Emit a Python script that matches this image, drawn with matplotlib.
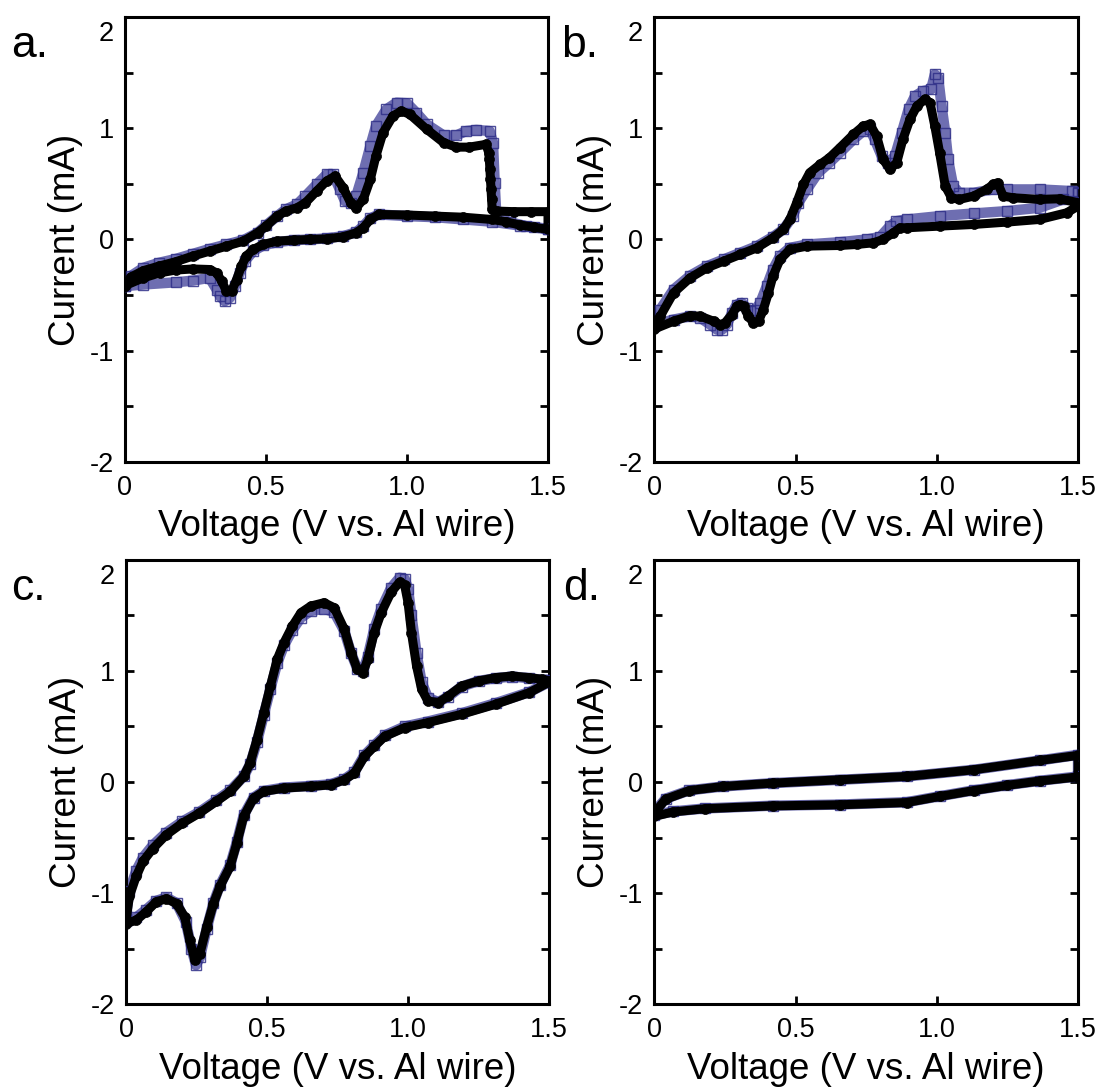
import matplotlib
matplotlib.use("Agg")
import matplotlib.pyplot as plt
from matplotlib.ticker import MultipleLocator, FixedLocator
import matplotlib.transforms as mtransforms

plt.rcParams['font.family'] = ['Liberation Sans', 'DejaVu Sans']

# ---------------- data (V vs. Al wire, current in mA) ----------------
# Panel a
a_black_v = [0, 0.02, 0.065, 0.12, 0.18, 0.24, 0.30, 0.36, 0.42, 0.47, 0.50, 0.54, 0.57, 0.61, 0.64,
             0.68, 0.715, 0.745, 0.774, 0.80, 0.82, 0.845, 0.87, 0.89, 0.915, 0.95, 0.98, 1.01, 1.07,
             1.13, 1.175, 1.22, 1.28, 1.29, 1.292, 1.294, 1.296, 1.298, 1.30, 1.302, 1.32, 1.38, 1.44, 1.5,
             1.5, 1.45, 1.4, 1.35, 1.3, 1.2, 1.1, 1.0, 0.9, 0.87, 0.845, 0.82, 0.774, 0.715, 0.655, 0.6,
             0.54, 0.49, 0.455, 0.43, 0.413, 0.396, 0.378, 0.36, 0.343, 0.325, 0.30, 0.24, 0.18, 0.124,
             0.065, 0.0]
a_black_i = [-0.42, -0.34, -0.28, -0.24, -0.2, -0.15, -0.105, -0.06, -0.015, 0.06, 0.12, 0.21, 0.255, 0.285,
             0.33, 0.435, 0.525, 0.57, 0.465, 0.33, 0.285, 0.36, 0.54, 0.75, 0.96, 1.11, 1.155, 1.125, 0.99,
             0.87, 0.83, 0.83, 0.855, 0.78, 0.72, 0.63, 0.54, 0.45, 0.36, 0.27, 0.255, 0.25, 0.25, 0.25,
             0.09, 0.11, 0.13, 0.16, 0.18, 0.2, 0.21, 0.22, 0.225, 0.18, 0.105, 0.06, 0.024, 0.006, 0.0,
             -0.006, -0.015, -0.045, -0.09, -0.15, -0.24, -0.36, -0.465, -0.465, -0.375, -0.3, -0.27,
             -0.265, -0.275, -0.3, -0.345, -0.415]
a_blue_v = [0, 0.02, 0.065, 0.12, 0.18, 0.24, 0.30, 0.36, 0.42, 0.47, 0.50, 0.54, 0.57, 0.61, 0.64, 0.68,
            0.715, 0.738, 0.762, 0.78, 0.80, 0.82, 0.845, 0.87, 0.89, 0.927, 0.963, 1.0, 1.033, 1.07, 1.13,
            1.175, 1.21, 1.246, 1.293, 1.305, 1.311, 1.317, 1.364, 1.423, 1.5,
            1.5, 1.45, 1.4, 1.3, 1.2, 1.1, 1.0, 0.9, 0.87, 0.845, 0.82, 0.774, 0.715, 0.655, 0.6, 0.54,
            0.49, 0.455, 0.425, 0.407, 0.39, 0.372, 0.354, 0.337, 0.325, 0.30, 0.24, 0.18, 0.065, 0.0]
a_blue_i = [-0.42, -0.33, -0.255, -0.21, -0.175, -0.13, -0.085, -0.045, -0.006, 0.06, 0.126, 0.21, 0.27,
            0.315, 0.39, 0.495, 0.585, 0.585, 0.45, 0.345, 0.33, 0.39, 0.6, 0.84, 1.02, 1.17, 1.23, 1.225,
            1.14, 1.035, 0.935, 0.935, 0.975, 0.985, 0.975, 0.87, 0.51, 0.21, 0.156, 0.12, 0.096,
            0.09, 0.11, 0.125, 0.16, 0.18, 0.2, 0.21, 0.225, 0.19, 0.12, 0.065, 0.03, 0.01, 0.0, -0.006,
            -0.024, -0.054, -0.105, -0.195, -0.3, -0.42, -0.525, -0.555, -0.51, -0.45, -0.345, -0.37,
            -0.385, -0.405, -0.42]

# Panel b
b_black_v = [0, 0.021, 0.068, 0.127, 0.186, 0.245, 0.304, 0.363, 0.42, 0.457, 0.48, 0.504, 0.528, 0.55,
             0.587, 0.62, 0.657, 0.705, 0.74, 0.763, 0.787, 0.81, 0.834, 0.858, 0.88, 0.905, 0.93, 0.958,
             0.976, 0.993, 1.01, 1.03, 1.052, 1.08, 1.13, 1.176, 1.2, 1.215, 1.235, 1.27, 1.364, 1.435, 1.5,
             1.5, 1.46, 1.364, 1.247, 1.13, 1.01, 0.893, 0.87, 0.846, 0.81, 0.775, 0.716, 0.657, 0.54,
             0.48, 0.445, 0.42, 0.404, 0.386, 0.369, 0.351, 0.333, 0.316, 0.304, 0.292, 0.275, 0.25,
             0.233, 0.21, 0.163, 0.127, 0.068, 0.0]
b_black_i = [-0.8, -0.69, -0.48, -0.345, -0.255, -0.195, -0.135, -0.075, 0.015, 0.09, 0.18, 0.33, 0.495,
             0.6, 0.675, 0.735, 0.825, 0.945, 1.02, 1.035, 0.93, 0.72, 0.63, 0.69, 0.9, 1.08, 1.2, 1.26,
             1.23, 1.02, 0.78, 0.48, 0.375, 0.36, 0.39, 0.45, 0.495, 0.51, 0.39, 0.375, 0.36, 0.366, 0.33,
             0.3, 0.24, 0.18, 0.156, 0.135, 0.12, 0.105, 0.105, 0.06, 0.0, -0.03, -0.045, -0.054, -0.06,
             -0.09, -0.18, -0.33, -0.48, -0.63, -0.735, -0.75, -0.69, -0.6, -0.585, -0.6, -0.675, -0.75,
             -0.765, -0.735, -0.69, -0.685, -0.735, -0.805]
b_blue_v = [0, 0.021, 0.068, 0.127, 0.186, 0.245, 0.304, 0.363, 0.42, 0.457, 0.49, 0.51, 0.54, 0.58, 0.62,
            0.657, 0.705, 0.74, 0.763, 0.78, 0.805, 0.828, 0.852, 0.876, 0.9, 0.923, 0.952, 0.98, 0.993,
            1.005, 1.017, 1.03, 1.04, 1.058, 1.08, 1.13, 1.2, 1.247, 1.364, 1.48, 1.5,
            1.5, 1.447, 1.364, 1.247, 1.13, 1.01, 0.893, 0.857, 0.834, 0.8, 0.752, 0.657, 0.54, 0.48,
            0.445, 0.42, 0.398, 0.375, 0.357, 0.34, 0.327, 0.31, 0.292, 0.275, 0.257, 0.24, 0.222, 0.198,
            0.163, 0.127, 0.068, 0.0]
b_blue_i = [-0.78, -0.63, -0.45, -0.325, -0.24, -0.18, -0.12, -0.06, 0.024, 0.09, 0.21, 0.33, 0.45, 0.6,
            0.69, 0.78, 0.9, 0.975, 0.99, 0.9, 0.75, 0.69, 0.75, 0.96, 1.17, 1.29, 1.335, 1.35, 1.485,
            1.455, 1.2, 0.96, 0.72, 0.48, 0.42, 0.42, 0.45, 0.45, 0.45, 0.435, 0.426,
            0.42, 0.36, 0.285, 0.255, 0.234, 0.21, 0.18, 0.165, 0.12, 0.024, 0.0, -0.024, -0.045, -0.075,
            -0.15, -0.27, -0.42, -0.57, -0.63, -0.645, -0.615, -0.57, -0.585, -0.66, -0.765, -0.81, -0.81,
            -0.765, -0.705, -0.69, -0.72, -0.765]

# Panel c
c_black_v = [0, 0.012, 0.036, 0.06, 0.095, 0.143, 0.2, 0.26, 0.32, 0.37, 0.417, 0.44, 0.464, 0.488, 0.512,
             0.536, 0.56, 0.59, 0.62, 0.655, 0.702, 0.738, 0.774, 0.798, 0.82, 0.84, 0.857, 0.88, 0.905,
             0.94, 0.97, 0.988, 1.0, 1.012, 1.03, 1.048, 1.07, 1.107, 1.143, 1.19, 1.25, 1.31, 1.369, 1.43,
             1.476, 1.5,
             1.5, 1.43, 1.31, 1.19, 1.07, 0.988, 0.917, 0.88, 0.845, 0.81, 0.774, 0.726, 0.655, 0.56, 0.488,
             0.452, 0.417, 0.393, 0.369, 0.333, 0.31, 0.286, 0.262, 0.244, 0.226, 0.208, 0.179, 0.143,
             0.107, 0.071, 0.036, 0.0]
c_black_i = [-1.245, -1.03, -0.85, -0.715, -0.6, -0.475, -0.37, -0.28, -0.175, -0.085, 0.05, 0.17, 0.38,
             0.62, 0.865, 1.105, 1.255, 1.405, 1.525, 1.585, 1.615, 1.57, 1.375, 1.165, 1.015, 0.985, 1.105,
             1.345, 1.525, 1.71, 1.8, 1.77, 1.615, 1.345, 1.045, 0.835, 0.73, 0.715, 0.775, 0.865, 0.91,
             0.94, 0.955, 0.94, 0.925, 0.91,
             0.9, 0.805, 0.7, 0.61, 0.535, 0.49, 0.41, 0.32, 0.23, 0.08, 0.02, -0.025, -0.04, -0.055, -0.085,
             -0.145, -0.31, -0.55, -0.76, -0.94, -1.095, -1.305, -1.545, -1.605, -1.425, -1.215, -1.095,
             -1.05, -1.08, -1.17, -1.245, -1.275]
c_blue_v = [0, 0.012, 0.036, 0.06, 0.095, 0.143, 0.2, 0.26, 0.32, 0.37, 0.417, 0.44, 0.464, 0.488, 0.512,
            0.536, 0.56, 0.59, 0.62, 0.655, 0.702, 0.738, 0.774, 0.798, 0.82, 0.84, 0.857, 0.88, 0.905,
            0.94, 0.97, 0.988, 1.0, 1.012, 1.03, 1.048, 1.07, 1.107, 1.143, 1.19, 1.25, 1.31, 1.369, 1.43,
            1.476, 1.5,
            1.5, 1.43, 1.31, 1.19, 1.07, 0.988, 0.917, 0.88, 0.845, 0.81, 0.774, 0.726, 0.655, 0.56, 0.488,
            0.452, 0.417, 0.393, 0.369, 0.333, 0.31, 0.286, 0.262, 0.248, 0.232, 0.212, 0.179, 0.143,
            0.107, 0.071, 0.036, 0.0]
c_blue_i = [-1.2, -0.98, -0.8, -0.68, -0.57, -0.455, -0.355, -0.27, -0.165, -0.075, 0.05, 0.16, 0.36, 0.6,
            0.84, 1.07, 1.23, 1.37, 1.48, 1.54, 1.56, 1.53, 1.36, 1.16, 1.02, 1.0, 1.13, 1.38, 1.56, 1.75,
            1.84, 1.83, 1.74, 1.5, 1.16, 0.9, 0.76, 0.72, 0.77, 0.86, 0.91, 0.935, 0.95, 0.935, 0.92, 0.92,
            0.9, 0.81, 0.71, 0.62, 0.545, 0.5, 0.42, 0.33, 0.24, 0.09, 0.025, -0.02, -0.035, -0.05, -0.08,
            -0.14, -0.3, -0.54, -0.75, -0.93, -1.09, -1.32, -1.58, -1.65, -1.5, -1.26, -1.09, -1.04, -1.07,
            -1.15, -1.22, -1.25]

# Panel d
d_black_v = [0, 0.04, 0.124, 0.243, 0.42, 0.657, 0.893, 1.13, 1.367, 1.5,
             1.5, 1.367, 1.25, 1.13, 1.01, 0.893, 0.657, 0.42, 0.18, 0.065, 0.0]
d_black_i = [-0.28, -0.155, -0.077, -0.04, -0.01, 0.02, 0.05, 0.11, 0.195, 0.24,
             0.046, 0.01, -0.03, -0.077, -0.13, -0.185, -0.205, -0.215, -0.24, -0.27, -0.31]
d_blue_v = [0, 0.04, 0.124, 0.243, 0.42, 0.657, 0.893, 1.13, 1.367, 1.5,
            1.5, 1.367, 1.25, 1.13, 1.01, 0.893, 0.657, 0.42, 0.18, 0.065, 0.0]
d_blue_i = [-0.27, -0.15, -0.075, -0.04, -0.01, 0.02, 0.05, 0.11, 0.195, 0.245,
            0.05, 0.012, -0.028, -0.075, -0.128, -0.182, -0.203, -0.213, -0.238, -0.265, -0.3]

panel_letters = ['a.', 'b.', 'c.', 'd.']
x_ticks = [0, 0.5, 1.0, 1.5]
x_ticklabels = ['0', '0.5', '1.0', '1.5']
y_ticks = [-2, -1, 0, 1, 2]
y_ticklabels = ['-2', '-1', '0', '1', '2']
xlabel = 'Voltage (V vs. Al wire)'
ylabel = 'Current (mA)'

panels = [
    (a_black_v, a_black_i, a_blue_v, a_blue_i),
    (b_black_v, b_black_i, b_blue_v, b_blue_i),
    (c_black_v, c_black_i, c_blue_v, c_blue_i),
    (d_black_v, d_black_i, d_blue_v, d_blue_i),
]

# ---------------- figure ----------------
fig = plt.figure(figsize=(10.96, 10.89), dpi=100)
rects = [
    [0.114, 0.5758, 0.386, 0.4086],
    [0.597, 0.5758, 0.3866, 0.4086],
    [0.115, 0.078, 0.386, 0.4078],
    [0.597, 0.078, 0.3866, 0.4078],
]
letter_pos = [(0.010, 0.958), (0.512, 0.958), (0.010, 0.460), (0.514, 0.460)]

blue_edge = '#2f2f88'
blue_line = '#4a4a9e'

for k, (rect, data) in enumerate(zip(rects, panels)):
    bv, bi, uv, ui = data
    ax = fig.add_axes(rect)
    # blue open squares
    ax.plot(uv, ui, '-', color=blue_line, lw=7.5, alpha=0.8, solid_capstyle='round',
            solid_joinstyle='round', zorder=2)
    ax.plot(uv, ui, 's', ms=6.5, mfc='none', mec=blue_edge, mew=1.0, alpha=0.85, zorder=3)
    # black filled circles
    ax.plot(bv, bi, '-', color='black', lw=6.5, solid_capstyle='round',
            solid_joinstyle='round', zorder=4)
    ax.plot(bv, bi, 'o', ms=7.2, mfc='black', mec='black', mew=0.5, zorder=5)

    ax.set_xlim(0, 1.5)
    ax.set_ylim(-2, 2)
    ax.xaxis.set_major_locator(FixedLocator(x_ticks))
    ax.set_xticklabels(x_ticklabels)
    ax.yaxis.set_major_locator(FixedLocator(y_ticks))
    ax.set_yticklabels(y_ticklabels)
    ax.yaxis.set_minor_locator(MultipleLocator(0.5))
    ax.tick_params(axis='both', which='both', direction='in', length=6, width=2.0,
                   labelsize=19.5, top=False, right=True)
    ax.tick_params(axis='y', which='major', pad=8)
    ax.tick_params(axis='x', which='major', pad=9.5)
    for s in ax.spines.values():
        s.set_linewidth(2.2)
    ax.set_xlabel(xlabel, fontsize=26.5, labelpad=6)
    ax.set_ylabel(ylabel, fontsize=26.5, labelpad=5)

    # shift top "2" label slightly down as in the reference
    lab = ax.get_yticklabels()[-1]
    lab.set_transform(lab.get_transform() + mtransforms.ScaledTranslation(0, -10 / 72, fig.dpi_scale_trans))

    fig.text(letter_pos[k][0], letter_pos[k][1], panel_letters[k], fontsize=32,
             ha='left', va='center')

fig.savefig('out.png', dpi=100)
